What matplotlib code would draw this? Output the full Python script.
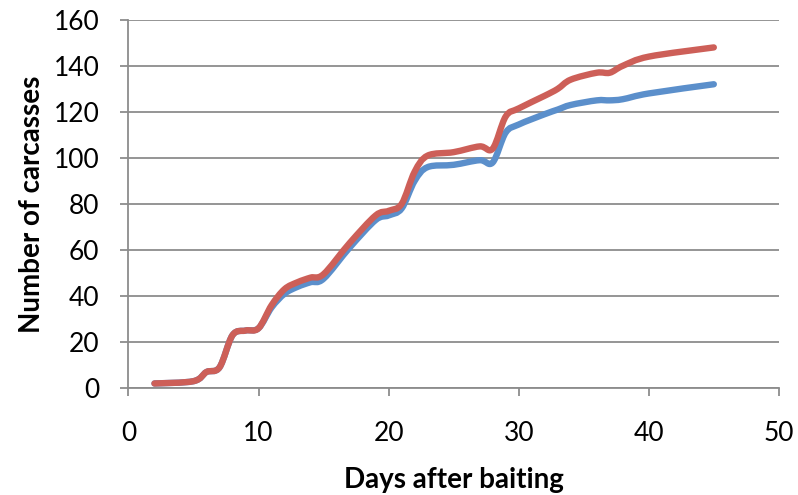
import numpy as np
import matplotlib.pyplot as plt
from matplotlib.path import Path
from matplotlib.patches import PathPatch

# jours et nombre cumulé de carcasses
days = [2, 5, 6, 7, 8, 9, 10, 11, 12, 13, 14, 15, 17, 19, 20, 21, 22, 23,
        25, 27, 28, 29, 30, 32, 33, 34, 36, 37, 38, 40, 45]
red_counts = [2, 3, 7, 9, 23, 25, 26, 36, 43, 46, 48, 49.5, 63, 75, 77, 80, 94, 101,
              102.5, 105, 104, 118, 121.5, 127, 130, 134, 137, 137, 140, 144, 148]
blue_counts = [2, 3, 7, 9, 23, 25, 26, 35, 41, 44, 46, 47.5, 61, 73, 75, 78, 90, 96,
               97, 99, 98, 111, 114.5, 119, 121, 123, 125, 125, 125.5, 128, 132]

x_ticks = [0, 10, 20, 30, 40, 50]
y_ticks = [0, 20, 40, 60, 80, 100, 120, 140, 160]

plt.rcParams['font.family'] = ['Lato', 'DejaVu Sans']


# courbe lissée façon Excel (Bézier cubique)
def smooth_path(x, y, t=1 / 6):
    x = np.asarray(x, float)
    y = np.asarray(y, float)
    verts = [(x[0], y[0])]
    codes = [Path.MOVETO]
    n = len(x)
    for i in range(n - 1):
        i0 = max(i - 1, 0)
        i3 = min(i + 2, n - 1)
        c1 = (x[i] + t * (x[i + 1] - x[i0]), y[i] + t * (y[i + 1] - y[i0]))
        c2 = (x[i + 1] - t * (x[i3] - x[i]), y[i + 1] - t * (y[i3] - y[i]))
        verts += [c1, c2, (x[i + 1], y[i + 1])]
        codes += [Path.CURVE4] * 3
    return Path(verts, codes)


fig = plt.figure(figsize=(7.98, 4.95), dpi=100)
ax = fig.add_axes([0.161, 0.216, 0.815, 0.744])

for counts, color in [(blue_counts, '#5B8FCB'), (red_counts, '#CD5F58')]:
    patch = PathPatch(smooth_path(days, counts), facecolor='none', edgecolor=color,
                      lw=4.6, capstyle='round', joinstyle='round', zorder=3)
    ax.add_patch(patch)

ax.set_xlim(0, 50)
ax.set_ylim(0, 160)
ax.set_xticks(x_ticks)
ax.set_yticks(y_ticks)
ax.grid(axis='y', color='#8C8C8C', lw=1.3)
ax.set_axisbelow(True)

for s in ['top', 'right']:
    ax.spines[s].set_visible(False)
for s in ['left', 'bottom']:
    ax.spines[s].set_color('#8C8C8C')
    ax.spines[s].set_linewidth(1.3)

ax.tick_params(axis='y', length=6, width=1.3, color='#8C8C8C', labelsize=19, pad=15)
ax.tick_params(axis='x', length=6, width=1.3, color='#8C8C8C', labelsize=19, pad=18)

ax.set_xlabel('Days after baiting', fontsize=20, fontweight='bold', labelpad=15)
ax.set_ylabel('Number of carcasses', fontsize=20, fontweight='bold', labelpad=6)

fig.savefig('out.png', dpi=100)
